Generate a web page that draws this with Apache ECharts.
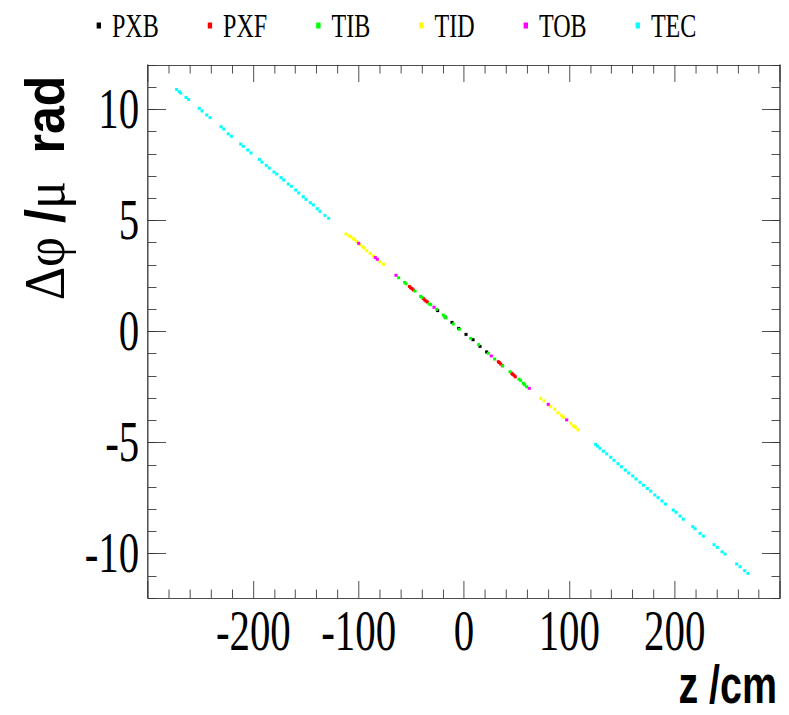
<!DOCTYPE html>
<html>
<head>
<meta charset="utf-8">
<script src="https://cdn.jsdelivr.net/npm/echarts@6/dist/echarts.min.js"></script>
<style>
html,body{margin:0;padding:0;background:#fff;overflow:hidden;width:789px;height:715px;}
#wrap{width:789px;height:715px;overflow:hidden;position:relative;}
#chart{position:absolute;left:0;top:0;height:715px;transform-origin:0 0;}
</style>
</head>
<body>
<div id="wrap"><div id="chart"></div></div>
<script>
// ---------- data (z [cm], delta phi / mu [rad]) ----------
const seriesNames = ['PXB', 'PXF', 'TIB', 'TID', 'TOB', 'TEC'];
const seriesColors = ['#000000', '#ff0000', '#00ff00', '#ffff00', '#ff00ff', '#00ffff'];

const pxb = [[-25,0.94],[-17.8,0.65],[-11.4,0.41],[-5,0.14],[1.9,-0.13],[8.6,-0.37],[15.2,-0.67],[21.5,-0.92]];

const pxf = [[-51.9,2.03],[-50.6,1.97],[-49.4,1.93],[-48.1,1.87],
             [-38.6,1.48],[-37.3,1.42],[-36.1,1.37],[-34.8,1.33],
             [32.6,-1.36],[33.5,-1.40],[34.8,-1.46],[36.4,-1.54],
             [45.3,-1.88],[46.2,-1.93],[47.5,-1.97],[48.7,-2.04]];

const tib = [[-62,2.42],[-56.3,2.21],[-55.1,2.15],[-46.5,1.82],[-41.1,1.58],[-39.9,1.54],
             [-32.9,1.24],[-31.6,1.21],[-25.9,1.0],[-19.6,0.74],[-18.3,0.68],[-17.1,0.61],
             [-10.2,0.34],[-4.4,0.10],[6.4,-0.31],[14,-0.59],[23.1,-0.98],[29.1,-1.24],
             [36.7,-1.55],[43.7,-1.81],[52.2,-2.15],[53.8,-2.2],[56.3,-2.33],[57.6,-2.4],[59.5,-2.49]];

const tid = [[-112,4.39],[-108.9,4.30],[-107.6,4.27],[-105.1,4.18],[-103.8,4.13],[-101.9,4.04],
             [-98.7,3.91],[-96.2,3.82],[-94.9,3.76],[-92.4,3.64],[-89.2,3.52],[-86.1,3.40],
             [-79.7,3.14],[-76.4,3.03],
             [72.8,-3.01],[76,-3.12],[80.4,-3.30],[82.3,-3.39],[86.1,-3.50],[89.2,-3.66],
             [92.4,-3.77],[94.3,-3.86],[101.3,-4.13],[103.8,-4.25],[105.7,-4.31],[108.2,-4.43]];

const tob = [[-100,3.97],[-84.2,3.33],[-82.3,3.25],[-64.6,2.53],[-28.5,1.09],
             [25.9,-1.10],[62,-2.56],[80,-3.28],[97.5,-3.98]];

const tec = [[-272.8,10.9],[-270.3,10.8],[-269,10.74],[-263.9,10.54],[-261.4,10.45],
             [-251.3,10.05],[-248.7,9.93],[-244.3,9.75],[-241.1,9.63],
             [-230.7,9.22],[-228.1,9.12],[-223.8,8.9],[-220.9,8.79],
             [-212,8.44],[-209.5,8.34],[-205.3,8.17],[-202.2,8.04],
             [-194.3,7.75],[-191.8,7.63],[-187.7,7.48],[-184.9,7.36],[-180.4,7.18],[-177.8,7.09],
             [-173.7,6.93],[-171.2,6.82],[-166.8,6.64],[-163.9,6.54],[-159.8,6.37],[-156.9,6.24],
             [-152.6,6.07],[-150,5.95],[-145.9,5.8],[-143.1,5.7],[-139.3,5.53],[-136.7,5.41],
             [-132,5.23],[-128.5,5.1],
             [125,-5.08],[126.6,-5.16],[129.1,-5.26],[132.3,-5.39],[135.5,-5.51],[139.3,-5.66],
             [142.4,-5.8],[146.2,-5.95],[149.4,-6.09],[153.2,-6.24],[156.4,-6.37],[160.2,-6.5],
             [163.3,-6.64],[167.1,-6.79],[170.3,-6.92],[174,-7.07],[177.3,-7.19],[181.1,-7.36],
             [184.2,-7.48],[188,-7.63],[191.2,-7.77],[198.7,-8.04],[201.3,-8.14],[205.1,-8.31],
             [208.2,-8.45],[217.2,-8.79],[219.3,-8.88],[224.1,-9.09],[227.2,-9.21],[237.4,-9.6],
             [240.5,-9.72],[245,-9.92],[247.8,-10.02],[258.9,-10.47],[262.1,-10.59],[266.5,-10.77],
             [269.6,-10.89]];

const xMin = -300, xMax = 300, xInterval = 100;
const yMin = -12, yMax = 12;
const yMajorTicks = [-10, -5, 0, 5, 10];

// ---------- layout (text in this plot is horizontally condensed) ----------
const S = 0.73;
const W = Math.round(789 / S);
const H = 715;
const el = document.getElementById('chart');
el.style.width = W + 'px';
el.style.transform = 'scaleX(' + S + ')';

const lineCol = '#333333';
const serif = 'Liberation Serif';
const sans = 'Liberation Sans';

function xAx(pos, labels) {
  return {
    type: 'value', position: pos, min: xMin, max: xMax, interval: xInterval,
    axisLine: { show: true, onZero: false, lineStyle: { color: lineCol, width: 1 } },
    axisTick: { show: true, inside: true, length: 17, lineStyle: { color: lineCol } },
    minorTick: { show: true, splitNumber: 5, length: 8.5, lineStyle: { color: lineCol } },
    axisLabel: { show: labels, fontFamily: serif, fontSize: 56, color: '#000', margin: 5,
                 showMinLabel: false, showMaxLabel: false },
    splitLine: { show: false }, minorSplitLine: { show: false }
  };
}
function yMinorAx(pos) {
  return {
    type: 'value', position: pos, min: yMin, max: yMax, interval: 1,
    axisLine: { show: true, onZero: false, lineStyle: { color: lineCol, width: 1 } },
    axisTick: { show: true, inside: true, length: 8.5 / S, lineStyle: { color: lineCol } },
    axisLabel: { show: false }, splitLine: { show: false }
  };
}
function yMajorAx(pos, labels) {
  return {
    type: 'value', position: pos, min: yMin, max: yMax,
    axisLine: { show: true, onZero: false, lineStyle: { color: lineCol, width: 1 } },
    axisTick: { show: true, inside: true, length: 18 / S, customValues: yMajorTicks, lineStyle: { color: lineCol } },
    axisLabel: { show: labels, customValues: yMajorTicks, fontFamily: serif, fontSize: 56, color: '#000', margin: 12 },
    splitLine: { show: false }
  };
}

const allData = [pxb, pxf, tib, tid, tob, tec];
const series = seriesNames.map((n, i) => ({
  name: n, type: 'scatter', xAxisIndex: 0, yAxisIndex: 0,
  data: allData[i], symbol: 'rect', symbolSize: [4.2, 3],
  itemStyle: { color: seriesColors[i], opacity: 1 },
  z: n === 'TOB' ? 4 : 2, silent: true
}));

const chart = echarts.init(el, null, { renderer: 'svg', width: W, height: H });
chart.setOption({
  animation: false,
  backgroundColor: '#ffffff',
  grid: { left: 148 / S, right: W - 780 / S, top: 65, bottom: H - 598 },
  xAxis: [xAx('bottom', true), xAx('top', false)],
  yAxis: [yMinorAx('left'), yMajorAx('left', true), yMinorAx('right'), yMajorAx('right', false)],
  legend: {
    data: seriesNames, left: 93 / S, top: 4, icon: 'rect', itemWidth: 6, itemHeight: 6,
    itemGap: 67, selectedMode: false,
    textStyle: { fontFamily: serif, fontSize: 33, color: '#000', padding: [0, 0, 0, 10] }
  },
  graphic: [
    { type: 'text', x: 777 / S, y: 684, silent: true,
      style: { text: 'z /cm', fontFamily: sans, fontWeight: 'bold', fontSize: 54, lineHeight: 38, fill: '#000',
               align: 'right', verticalAlign: 'middle' } },
    { type: 'text', x: 45 / S, y: 188, rotation: Math.PI / 2, scaleY: 1.5, silent: true,
      style: { text: '{g|Δφ}{b| /}{g|μ}{b|  rad}', fill: '#000', align: 'center', verticalAlign: 'middle',
               rich: { g: { fontFamily: serif, fontSize: 52, fill: '#000' },
                       b: { fontFamily: sans, fontWeight: 'bold', fontSize: 50, fill: '#000' } } } }
  ],
  series: series
});
</script>
</body>
</html>
